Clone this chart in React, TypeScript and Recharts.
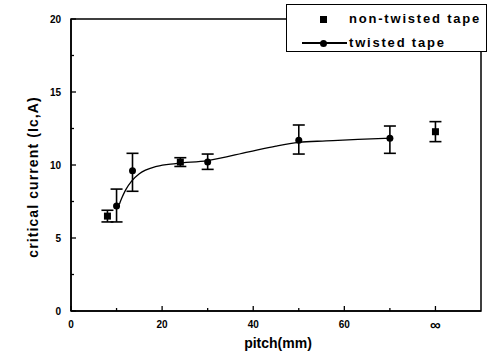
import React from "react";
import {
  ComposedChart,
  Line,
  Scatter,
  ErrorBar,
  XAxis,
  YAxis,
  ReferenceArea,
  Legend,
} from "recharts";

// twisted tape: pitch (mm), critical current (kA), error bar ends
const twistedPitch = [10, 13.5, 30, 50, 70];
const twistedIc = [7.2, 9.6, 10.2, 11.7, 11.83];
const twistedLow = [6.1, 8.2, 9.7, 10.75, 10.8];
const twistedHigh = [8.35, 10.8, 10.75, 12.74, 12.67];

// non-twisted tape (80 stands for the "infinite" pitch position)
const flatPitch = [8, 24, 80];
const flatIc = [6.5, 10.2, 12.28];
const flatLow = [6.1, 9.9, 11.6];
const flatHigh = [6.9, 10.5, 12.97];

// fitted curve through the twisted tape points
const fitPitch = [10.6, 11.1, 12, 13.3, 15, 18.8, 23, 30, 39, 45, 50, 56, 63, 70];
const fitIc = [7.3, 7.7, 8.3, 8.9, 9.4, 9.9, 10.1, 10.3, 10.9, 11.3, 11.55, 11.65, 11.76, 11.83];

const xTicks = [0, 10, 20, 30, 40, 50, 60, 70, 80];
const xTickLabels: Record<number, string> = { 0: "0", 20: "20", 40: "40", 60: "60", 80: "∞" };
const yTicks = [0, 2.5, 5, 7.5, 10, 12.5, 15, 17.5, 20];

const FONT = "'Liberation Sans', Arial, sans-serif";

const twisted = twistedPitch.map((x, i) => ({
  x,
  y: twistedIc[i],
  err: [twistedIc[i] - twistedLow[i], twistedHigh[i] - twistedIc[i]],
}));
const flat = flatPitch.map((x, i) => ({
  x,
  y: flatIc[i],
  err: [flatIc[i] - flatLow[i], flatHigh[i] - flatIc[i]],
}));
const fit = fitPitch.map((x, i) => ({ x, y: fitIc[i] }));

function XTick(props: any) {
  const { x, y, payload } = props;
  const v = payload.value;
  const label = xTickLabels[v];
  const major = label !== undefined;
  return (
    <g>
      <line x1={x} x2={x} y1={y} y2={y - (major ? 5 : 3)} stroke="#000" strokeWidth={1.3} />
      {major && (
        <text
          x={x}
          y={y + 13}
          textAnchor="middle"
          dominantBaseline="central"
          fontFamily={FONT}
          fontWeight="bold"
          fontSize={v === 80 ? 15 : 10}
          fill="#000"
        >
          {label}
        </text>
      )}
    </g>
  );
}

function YTick(props: any) {
  const { x, y, payload } = props;
  const v = payload.value;
  const major = v % 5 === 0;
  return (
    <g>
      <line x1={x} x2={x + (major ? 5 : 3)} y1={y} y2={y} stroke="#000" strokeWidth={1.3} />
      {major && (
        <text
          x={x - 10}
          y={y}
          textAnchor="end"
          dominantBaseline="central"
          fontFamily={FONT}
          fontWeight="bold"
          fontSize={10}
          fill="#000"
        >
          {v}
        </text>
      )}
    </g>
  );
}

function Square(props: any) {
  const { cx, cy } = props;
  return <rect x={cx - 3.5} y={cy - 3.5} width={7} height={7} fill="#000" />;
}

function Dot(props: any) {
  const { cx, cy } = props;
  return <circle cx={cx} cy={cy} r={3.5} fill="#000" />;
}

function LegendBox() {
  const text: React.CSSProperties = {
    position: "absolute",
    left: 62,
    fontFamily: FONT,
    fontWeight: "bold",
    fontSize: 13,
    letterSpacing: 1.8,
    lineHeight: "16px",
    color: "#000",
    whiteSpace: "nowrap",
  };
  return (
    <div
      style={{
        position: "relative",
        width: 199,
        height: 46,
        border: "1.5px solid #000",
        background: "#fff",
      }}
    >
      <div style={{ position: "absolute", left: 33, top: 11, width: 7, height: 7, background: "#000" }} />
      <div style={{ ...text, top: 6 }}>non-twisted tape</div>
      <div style={{ position: "absolute", left: 15, top: 37, width: 45, height: 1.5, background: "#000" }} />
      <div
        style={{ position: "absolute", left: 33, top: 34.5, width: 7, height: 7, borderRadius: 4, background: "#000" }}
      />
      <div style={{ ...text, top: 30 }}>twisted tape</div>
    </div>
  );
}

export default function App() {
  return (
    <div style={{ position: "fixed", left: 0, top: 0, width: 498, height: 362, background: "#fff" }}>
      <ComposedChart
        width={498}
        height={362}
        margin={{ top: 19, right: 17, bottom: 21, left: 11 }}
      >
        <XAxis
          type="number"
          dataKey="x"
          domain={[0, 90]}
          ticks={xTicks}
          interval={0}
          tick={<XTick />}
          tickSize={0}
          tickMargin={0}
          tickLine={false}
          axisLine={{ stroke: "#000", strokeWidth: 1.5 }}
          height={30}
          allowDataOverflow
        />
        <YAxis
          type="number"
          dataKey="y"
          domain={[0, 20]}
          ticks={yTicks}
          interval={0}
          tick={<YTick />}
          tickSize={0}
          tickMargin={0}
          tickLine={false}
          axisLine={{ stroke: "#000", strokeWidth: 1.5 }}
          width={60}
          allowDataOverflow
        />
        <ReferenceArea
          x1={0}
          x2={90}
          y1={0}
          y2={20}
          fill="none"
          stroke="#000"
          strokeWidth={1.5}
          fillOpacity={0}
        />
        <Line
          data={fit}
          dataKey="y"
          type="monotone"
          stroke="#000"
          strokeWidth={1.3}
          dot={false}
          activeDot={false}
          isAnimationActive={false}
        />
        <Scatter data={twisted} dataKey="y" shape={<Dot />} isAnimationActive={false}>
          <ErrorBar dataKey="err" direction="y" width={6} stroke="#000" strokeWidth={1.6} />
        </Scatter>
        <Scatter data={flat} dataKey="y" shape={<Square />} isAnimationActive={false}>
          <ErrorBar dataKey="err" direction="y" width={6} stroke="#000" strokeWidth={1.6} />
        </Scatter>
        <Legend
          layout="horizontal"
          verticalAlign="middle"
          align="center"
          content={() => <LegendBox />}
          wrapperStyle={{ top: 4, left: 286, width: 202, height: 49 }}
        />
        <text
          x={278}
          y={343}
          textAnchor="middle"
          dominantBaseline="central"
          fontFamily={FONT}
          fontWeight="bold"
          fontSize={14}
          fill="#000"
        >
          pitch(mm)
        </text>
        <text
          x={33}
          y={177}
          transform="rotate(-90 33 177)"
          textAnchor="middle"
          dominantBaseline="central"
          fontFamily={FONT}
          fontWeight="bold"
          fontSize={14}
          letterSpacing={1.1}
          fill="#000"
        >
          critical current (Ic,A)
        </text>
      </ComposedChart>
    </div>
  );
}
